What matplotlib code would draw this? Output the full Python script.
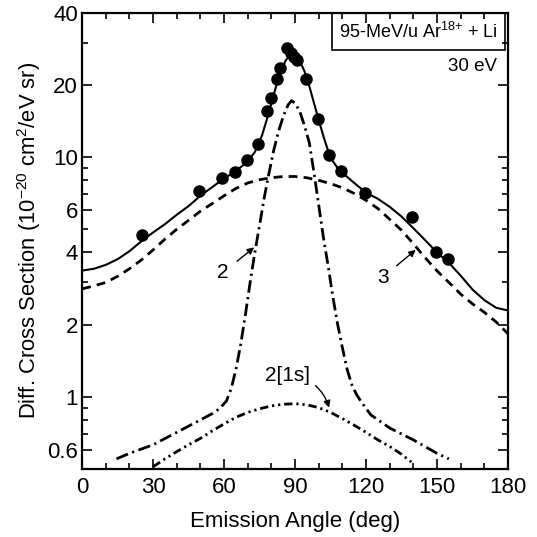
import matplotlib
matplotlib.use("Agg")
from matplotlib import pyplot as plt
from matplotlib.patches import Rectangle
from matplotlib.ticker import FixedLocator, NullFormatter

plt.rcParams['font.family'] = ['Liberation Sans', 'DejaVu Sans']
plt.rcParams['mathtext.default'] = 'regular'

# 实验数据点
exp_x = [25.2, 49.5, 59.3, 64.8, 69.6, 74.5, 78.0, 79.7, 82.2, 83.7, 86.5, 88.2,
         89.6, 90.7, 94.5, 99.8, 104.3, 109.4, 119.6, 139.5, 149.6, 154.8]
exp_y = [4.75, 7.2, 8.2, 8.7, 9.75, 11.3, 15.6, 17.7, 21.1, 23.6, 28.5, 27.3,
         26.2, 25.4, 21.1, 14.4, 10.2, 8.75, 7.1, 5.6, 4.03, 3.76]

# 总计算 (实线)
tot_x = [0, 5, 10, 15, 20, 25, 30, 35, 40, 45, 50, 55, 60, 65, 70, 73, 76, 78, 80, 82,
         84, 86, 88, 90, 92, 94, 96, 98, 100, 102, 104, 106, 108, 110, 115, 120, 125,
         130, 135, 140, 145, 150, 155, 160, 165, 170, 175, 180]
tot_y = [3.36, 3.42, 3.55, 3.75, 4.05, 4.45, 4.85, 5.25, 5.75, 6.25, 6.9, 7.5, 8.15,
         8.75, 9.6, 10.5, 12.3, 14.3, 16.8, 19.8, 22.8, 25.3, 26.8, 26.6, 25.2, 22.8,
         19.8, 16.8, 14.3, 12.2, 10.6, 9.6, 9.0, 8.6, 7.8, 7.1, 6.7, 6.2, 5.65, 5.05,
         4.5, 4.0, 3.62, 3.2, 2.8, 2.53, 2.35, 2.29]

# 曲线 3 (虚线)
c3_x = [0, 5, 10, 15, 20, 25, 30, 35, 40, 45, 50, 55, 60, 65, 70, 75, 80, 85, 90, 95,
        100, 105, 110, 115, 120, 125, 130, 135, 140, 145, 150, 155, 160, 165, 170, 175, 180]
c3_y = [2.82, 2.9, 3.0, 3.18, 3.42, 3.72, 4.1, 4.55, 5.0, 5.45, 5.95, 6.4, 6.9, 7.4,
        7.8, 8.05, 8.2, 8.3, 8.3, 8.2, 8.0, 7.75, 7.45, 7.05, 6.6, 6.1, 5.5, 4.95, 4.35,
        3.8, 3.35, 3.0, 2.68, 2.44, 2.25, 2.05, 1.83]

# 曲线 2 (点划线)
c2_x = [14.5, 20, 30, 40, 50, 55, 58, 61, 63, 65, 67, 69, 71, 73, 75, 77, 79, 81, 83,
        85, 87, 88.5, 90, 92, 94, 96, 98, 100, 102, 104, 106, 108, 110, 112, 114, 116,
        118, 122, 130, 140, 150, 155]
c2_y = [0.55, 0.58, 0.63, 0.71, 0.8, 0.85, 0.89, 0.96, 1.08, 1.3, 1.65, 2.2, 3.0, 4.0,
        5.2, 6.8, 8.6, 10.7, 12.8, 14.8, 16.5, 17.2, 16.8, 15.5, 13.5, 11.5, 8.6, 6.3,
        4.6, 3.5, 2.6, 2.0, 1.6, 1.3, 1.12, 1.02, 0.95, 0.84, 0.74, 0.66, 0.58, 0.55]

# 曲线 2[1s] (双点划线)
c1s_x = [30, 35, 40, 45, 50, 55, 60, 65, 70, 75, 80, 85, 90, 95, 100, 105, 110, 115,
         120, 125, 130, 135, 140]
c1s_y = [0.51, 0.55, 0.59, 0.63, 0.67, 0.72, 0.77, 0.82, 0.86, 0.89, 0.915, 0.93,
         0.935, 0.925, 0.9, 0.86, 0.81, 0.76, 0.71, 0.66, 0.62, 0.575, 0.525]

x_ticks = [0, 30, 60, 90, 120, 150, 180]
y_ticks = [0.6, 1, 2, 4, 6, 10, 20, 40]
y_tick_labels = ['0.6', '1', '2', '4', '6', '10', '20', '40']
y_minor = [0.7, 0.8, 0.9, 3, 5, 7, 8, 9, 30]

fig = plt.figure(figsize=(5.37, 5.37), dpi=100)
ax = fig.add_axes([0.153, 0.127, 0.793, 0.849])

ax.plot(tot_x, tot_y, color='black', lw=1.5)
ax.plot(c3_x, c3_y, color='black', lw=2.0, linestyle=(0, (3.2, 2.2)))
ax.plot(c2_x, c2_y, color='black', lw=2.0, linestyle=(0, (4.5, 1.6, 0.8, 1.6)))
ax.plot(c1s_x, c1s_y, color='black', lw=2.0,
        linestyle=(0, (3.0, 1.4, 0.8, 1.4, 0.8, 1.4)))
ax.plot(exp_x, exp_y, 'o', color='black', markersize=8)

ax.set_yscale('log')
ax.set_xlim(0, 180)
ax.set_ylim(0.5, 40)
ax.xaxis.set_major_locator(FixedLocator(x_ticks))
ax.xaxis.set_minor_locator(FixedLocator([v for v in range(10, 180, 10) if v % 30]))
ax.yaxis.set_major_locator(FixedLocator(y_ticks))
ax.set_yticklabels(y_tick_labels)
ax.yaxis.set_minor_locator(FixedLocator(y_minor))
ax.yaxis.set_minor_formatter(NullFormatter())

ax.tick_params(which='both', direction='in', top=True, right=True, width=1.2)
ax.tick_params(which='major', length=7, labelsize=16)
ax.tick_params(which='minor', length=4)
ax.tick_params(axis='x', pad=6)
ax.tick_params(axis='y', pad=3)
for s in ax.spines.values():
    s.set_linewidth(1.6)

ax.set_xlabel('Emission Angle (deg)', fontsize=16, labelpad=9)
ax.set_ylabel('Diff. Cross Section (10$^{-20}$ cm$^2$/eV sr)', fontsize=15.8, labelpad=3)

# 右上角的说明框
ax.add_patch(Rectangle((0.587, 0.919), 0.406, 0.081, transform=ax.transAxes,
                       fill=False, edgecolor='black', lw=1.2))
ax.text(0.79, 0.959, '95-MeV/u Ar$^{18{+}}$ + Li', transform=ax.transAxes,
        ha='center', va='center', fontsize=13)
ax.text(165, 23.9, '30 eV', ha='center', va='center', fontsize=13.5)

# 曲线标注
ax.annotate('2', xy=(72.7, 4.2), xytext=(59.6, 3.3), fontsize=15, ha='center', va='center',
            arrowprops=dict(arrowstyle='-|>', color='black', lw=1, shrinkA=5, shrinkB=0,
                            mutation_scale=10))
ax.annotate('3', xy=(141, 4.1), xytext=(127, 3.15), fontsize=15, ha='center', va='center',
            arrowprops=dict(arrowstyle='-|>', color='black', lw=1, shrinkA=5, shrinkB=0,
                            mutation_scale=10))
ax.annotate('2[1s]', xy=(104.4, 0.9), xytext=(87, 1.22), fontsize=15, ha='center',
            va='center',
            arrowprops=dict(arrowstyle='-|>', color='black', lw=1, shrinkA=2, shrinkB=0,
                            mutation_scale=10, connectionstyle='arc3,rad=-0.35'))

plt.savefig('out.png', dpi=100)
